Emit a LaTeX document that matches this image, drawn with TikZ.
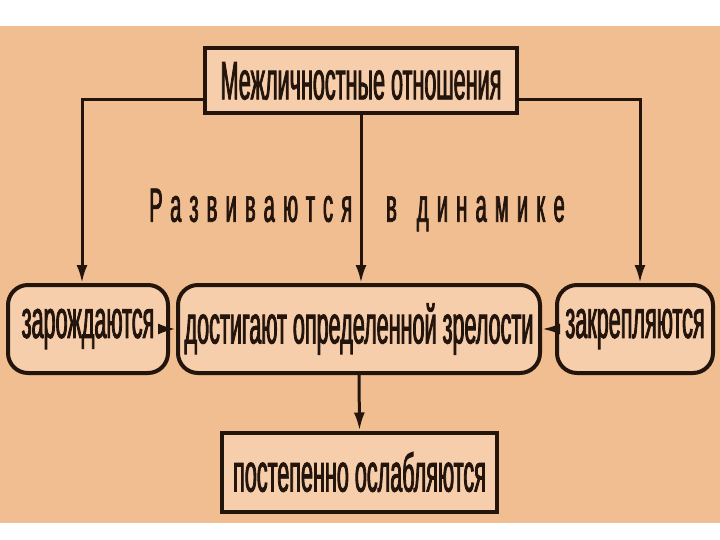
\documentclass[tikz,border=0pt]{standalone}
\usepackage{fontspec}
\setmainfont{Liberation Sans}[FakeStretch=0.40,FakeBold=1.5]
\newfontfamily\spacedfont{Liberation Sans}[FakeStretch=0.42,FakeBold=1.5,LetterSpace=17]
\usetikzlibrary{arrows.meta}
\definecolor{bgtan}{RGB}{240,190,145}
\definecolor{boxfill}{RGB}{246,206,172}
\definecolor{edge}{RGB}{35,20,12}
\begin{document}
\begin{tikzpicture}[x=1pt,y=-1pt,
  box/.style={draw=edge,fill=boxfill,line width=4pt,inner sep=0pt,
    font=\fontsize{54}{54}\selectfont,text=edge},
  rbox/.style={box,rounded corners=20pt},
  arr/.style={draw=edge,line width=3pt,-{Latex[length=18pt,width=11pt]}}]
\useasboundingbox (0,0) rectangle (720,540);
\fill[white] (0,0) rectangle (720,540);
\fill[bgtan] (0,26) rectangle (720,523);
\node[box,minimum width=312pt,minimum height=65pt] (top) at (361,81) {Межличностные отношения};
\node[rbox,minimum width=160pt,minimum height=88pt] (left) at (88,329) {зарождаются};
\node[rbox,minimum width=362pt,minimum height=88pt] (mid) at (359,329) {достигают определенной зрелости};
\node[rbox,minimum width=156pt,minimum height=88pt] (right) at (635,329) {закрепляются};
\node[box,minimum width=275pt,minimum height=79pt] (bot) at (359.5,472) {постепенно ослабляются};
\node[font=\spacedfont\fontsize{48}{48}\selectfont,text=edge,inner sep=0pt] (lbl) at (357,210) {Развиваются\hspace{34pt}в\hspace{20pt}динамике};
\draw[arr] ([yshift=-19pt]top.west) -| ([xshift=-6pt]left.north);
\draw[arr] ([yshift=-19pt]top.east) -| ([xshift=5pt]right.north);
\draw[arr] (top.south) -- (mid.north -| top.south);
\draw[arr] (left.east) -- (mid.west);
\draw[arr] (right.west) -- (mid.east);
\draw[arr] (mid.south) -- (bot.north);
\end{tikzpicture}
\end{document}
